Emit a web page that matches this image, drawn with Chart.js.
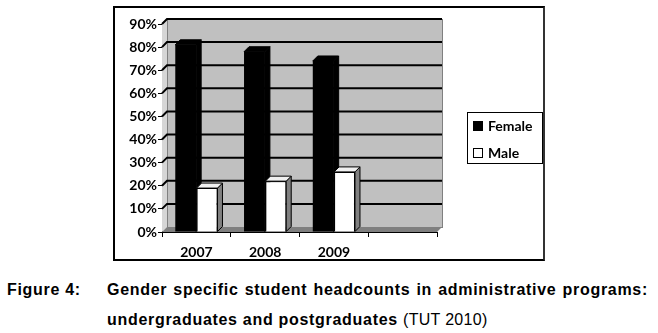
<!DOCTYPE html>
<html>
<head>
<meta charset="utf-8">
<script src="https://cdn.jsdelivr.net/npm/chart.js@4/dist/chart.umd.min.js"></script>
<style>
  body { margin: 0; background: #fff; width: 658px; height: 333px; position: relative; overflow: hidden; }
  #box { position: absolute; left: 113px; top: 6px; width: 428px; height: 251px; border: 2px solid #000; border-right-color: #333; }
  #chart { display: block; }
  .cap { position: absolute; font-family: "Liberation Sans", Arial, sans-serif; font-size: 16px; letter-spacing: 0.7px; font-weight: bold; line-height: 20px; color: #000; white-space: nowrap; }
  #fig { left: 7px; top: 280px; }
  #line1 { left: 107px; top: 280px; width: 541px; white-space: normal; text-align: justify; text-align-last: justify; }
  #line2 { left: 107px; top: 310px; }
  #line2 span { font-weight: normal; letter-spacing: 0.3px; }
</style>
</head>
<body>
<div id="box"><canvas id="chart" width="428" height="251"></canvas></div>
<div class="cap" id="fig">Figure 4:</div>
<div class="cap" id="line1">Gender specific student headcounts in administrative programs:</div>
<div class="cap" id="line2">undergraduates and postgraduates <span>(TUT 2010)</span></div>
<script>
const categories = ['2007', '2008', '2009', ''];
const female = [81, 78, 74, null];
const male = [19, 22, 26, null];
const seriesNames = ['Female', 'Male'];

const depth = { dx: 5, dy: -5 };
const tickFont = { family: 'Lato', size: 14, weight: 'bold' };

// back wall, side wall, floor and gridlines of the Excel-like 3D look
const wallsPlugin = {
  id: 'walls',
  beforeDatasetsDraw(chart) {
    const ctx = chart.ctx;
    const area = chart.chartArea;
    const y = chart.scales.y;
    const dx = depth.dx, dy = depth.dy;
    const y0 = y.getPixelForValue(0);
    const yTop = y.getPixelForValue(90);
    ctx.save();
    // back wall
    ctx.fillStyle = '#c0c0c0';
    ctx.fillRect(area.left + dx, yTop + dy, area.right - area.left, y0 - yTop);
    ctx.strokeStyle = '#808080';
    ctx.lineWidth = 1;
    ctx.strokeRect(area.left + dx + 0.5, yTop + dy + 0.5, area.right - area.left, y0 - yTop);
    // side wall
    ctx.fillStyle = '#d6d6d6';
    ctx.beginPath();
    ctx.moveTo(area.left, yTop);
    ctx.lineTo(area.left + dx, yTop + dy);
    ctx.lineTo(area.left + dx, y0 + dy);
    ctx.lineTo(area.left, y0);
    ctx.closePath();
    ctx.fill();
    // gridlines
    ctx.strokeStyle = '#000';
    ctx.lineWidth = 2;
    for (let v = 10; v <= 90; v += 10) {
      const py = y.getPixelForValue(v);
      ctx.beginPath();
      ctx.moveTo(area.left, py);
      ctx.lineTo(area.left + dx, py + dy);
      ctx.lineTo(area.right + dx, py + dy);
      ctx.stroke();
    }
    // floor
    ctx.fillStyle = '#7f7f7f';
    ctx.beginPath();
    ctx.moveTo(area.left, y0);
    ctx.lineTo(area.left + dx, y0 + dy);
    ctx.lineTo(area.right + dx, y0 + dy);
    ctx.lineTo(area.right, y0);
    ctx.closePath();
    ctx.fill();

    // side and top faces of the bars (fronts are drawn by Chart.js on top)
    const faces = [
      { side: '#000', top: '#000', line: '#000' },
      { side: '#808080', top: '#f0f0f0', line: '#000' }
    ];
    chart.data.datasets.forEach((ds, i) => {
      chart.getDatasetMeta(i).data.forEach((bar, j) => {
        if (ds.data[j] == null) return;
        const p = bar.getProps(['x', 'y', 'base', 'width'], true);
        const l = p.x - p.width / 2, r = p.x + p.width / 2;
        const t = p.y, b = p.base;
        ctx.lineWidth = 1;
        ctx.strokeStyle = faces[i].line;
        ctx.fillStyle = faces[i].side;
        ctx.beginPath();
        ctx.moveTo(r, t);
        ctx.lineTo(r + dx, t + dy);
        ctx.lineTo(r + dx, b + dy);
        ctx.lineTo(r, b);
        ctx.closePath();
        ctx.fill();
        ctx.stroke();
        ctx.fillStyle = faces[i].top;
        ctx.beginPath();
        ctx.moveTo(l, t);
        ctx.lineTo(l + dx, t + dy);
        ctx.lineTo(r + dx, t + dy);
        ctx.lineTo(r, t);
        ctx.closePath();
        ctx.fill();
        ctx.stroke();
      });
    });
    ctx.restore();
  },
  afterDraw(chart) {
    // legend box
    const ctx = chart.ctx;
    ctx.save();
    ctx.strokeStyle = '#000';
    ctx.lineWidth = 1;
    ctx.strokeRect(352.5, 104.5, 75, 51);
    const fills = ['#000', '#fff'];
    seriesNames.forEach((name, i) => {
      const sy = 113 + i * 27;
      ctx.fillStyle = fills[i];
      ctx.fillRect(358.5, sy + 0.5, 9, 9);
      ctx.strokeRect(358.5, sy + 0.5, 9, 9);
      ctx.fillStyle = '#000';
      ctx.font = 'bold 14px Lato';
      ctx.textBaseline = 'middle';
      ctx.fillText(name, 373, sy + 5);
    });
    ctx.restore();
  }
};

new Chart(document.getElementById('chart'), {
  type: 'bar',
  data: {
    labels: categories,
    datasets: [
      {
        label: seriesNames[0],
        data: female,
        backgroundColor: '#000',
        borderColor: '#000',
        borderWidth: 0,
        categoryPercentage: 0.62,
        barPercentage: 0.98
      },
      {
        label: seriesNames[1],
        data: male,
        backgroundColor: '#fff',
        borderColor: '#000',
        borderWidth: 1,
        categoryPercentage: 0.62,
        barPercentage: 0.98
      }
    ]
  },
  options: {
    responsive: false,
    animation: false,
    devicePixelRatio: 1,
    layout: { padding: { top: 16, right: 106, left: 0, bottom: 0 } },
    plugins: {
      legend: { display: false },
      tooltip: { enabled: false },
      title: { display: false }
    },
    scales: {
      x: {
        grid: { offset: true, drawOnChartArea: false, tickLength: 5, color: '#000' },
        border: { display: true, color: '#000', width: 1 },
        ticks: { color: '#000', font: tickFont, padding: 7, maxRotation: 0 },
        afterFit(scale) { scale.height = 27; }
      },
      y: {
        min: 0,
        max: 90,
        grid: { drawOnChartArea: false, tickLength: 4, color: '#000' },
        border: { display: true, color: '#000', width: 1 },
        ticks: {
          stepSize: 10,
          color: '#000',
          font: tickFont,
          padding: 1,
          callback: v => v + '%'
        },
        afterFit(scale) { scale.width = 47; }
      }
    }
  },
  plugins: [wallsPlugin]
});
</script>
</body>
</html>
